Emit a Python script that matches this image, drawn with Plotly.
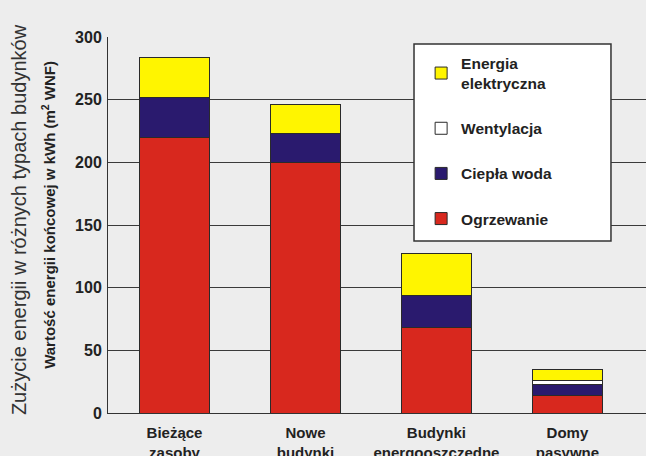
import plotly.graph_objects as go

categories = ["Bieżące<br>zasoby", "Nowe<br>budynki", "Budynki<br>energooszczędne", "Domy<br>pasywne"]
ogrzewanie = [220, 200, 68, 14]
cieplo_woda = [32, 23, 26, 9]
wentylacja = [0, 0, 0, 3]
energia_el = [32, 23, 33, 9]
y_ticks = [0, 50, 100, 150, 200, 250, 300]

series = [
    ("Ogrzewanie", ogrzewanie, "#d8281e"),
    ("Ciepła woda", cieplo_woda, "#2a1a6e"),
    ("Wentylacja", wentylacja, "#ffffff"),
    ("Energia<br>elektryczna", energia_el, "#fff500"),
]

FONT = "Liberation Sans, Arial, sans-serif"

fig = go.Figure()
n = len(series)
for i, (name, vals, col) in enumerate(series):
    fig.add_trace(go.Bar(
        x=list(range(len(categories))), y=vals, name=name,
        marker=dict(color=col, line=dict(color="#2a2a2a", width=1)),
        legendgroup=f"g{i}",
        legendrank=n - i,
    ))

fig.update_layout(
    barmode="stack",
    bargap=0.46,
    width=646, height=456,
    margin=dict(l=108, r=0, t=37, b=43, autoexpand=False),
    paper_bgcolor="#ededed",
    plot_bgcolor="#ededed",
    font=dict(family=FONT, color="#222222"),
    showlegend=True,
    legend=dict(
        traceorder="grouped",
        tracegroupgap=22,
        x=0.582, y=0.975, xanchor="left", yanchor="top",
        xref="paper", yref="paper",
        bgcolor="rgba(0,0,0,0)", borderwidth=0,
        font=dict(size=15.5, color="#222222", family=FONT, weight="bold"),
        itemwidth=30,
    ),
    shapes=[dict(type="rect", xref="paper", yref="paper",
                 x0=0.5688, x1=0.9349, y0=0.4574, y1=0.9814,
                 fillcolor="#ffffff", line=dict(color="#333333", width=1.5),
                 layer="above")],
    xaxis=dict(
        tickmode="array", tickvals=list(range(len(categories))), ticktext=categories,
        range=[-0.508, 3.6], automargin=False,
        showgrid=False, showline=True, linecolor="#333333", linewidth=1,
        ticks="outside", ticklen=6, tickcolor="rgba(0,0,0,0)",
        tickfont=dict(size=15, weight="bold", color="#222222"),
        zeroline=False,
    ),
    yaxis=dict(
        range=[0, 300], tickvals=y_ticks, automargin=False,
        showgrid=True, gridcolor="#3a3a3a", gridwidth=1,
        showline=True, linecolor="#333333", linewidth=1,
        ticks="", ticklabelstandoff=2,
        tickfont=dict(size=16, weight="bold", color="#222222"),
        zeroline=False,
    ),
    annotations=[
        dict(text="Zużycie energii w różnych typach budynków", textangle=-90,
             xref="paper", yref="paper", x=0, y=0.513, xanchor="center", yanchor="middle",
             xshift=-89, showarrow=False,
             font=dict(size=20, color="#333333", family=FONT)),
        dict(text="Wartość energii końcowej w kWh (m<sup>2</sup> WNF)", textangle=-90,
             xref="paper", yref="paper", x=0, y=0.527, xanchor="center", yanchor="middle",
             xshift=-59, showarrow=False,
             font=dict(size=15, color="#222222", family=FONT, weight="bold")),
    ],
)

fig.write_html(
    "out.html",
    config={"displayModeBar": False},
    post_script="document.body.style.margin='0px';document.body.style.background='#ededed';",
)
